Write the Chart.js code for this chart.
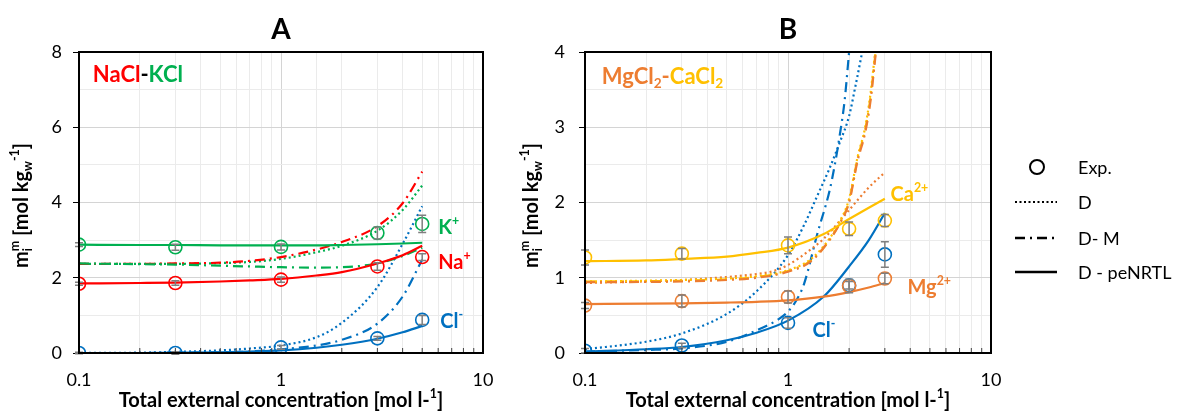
<!DOCTYPE html>
<html>
<head>
<meta charset="utf-8">
<script src="https://cdn.jsdelivr.net/npm/chart.js@4.4.1/dist/chart.umd.min.js"></script>
<style>
  body { margin: 0; background: #fff; width: 1182px; height: 411px; overflow: hidden; position: relative; font-family: Lato, sans-serif; }
  canvas { position: absolute; top: 0; }
  #chartA { left: 0; }
  #chartB { left: 510px; }
  #legend { position: absolute; left: 1000px; top: 0; width: 182px; height: 411px; }
  .leg { position: absolute; left: 78px; font-size: 18px; color: #000; transform: translateY(-50%); white-space: nowrap; }
</style>
</head>
<body>
<canvas id="chartA" width="500" height="411"></canvas>
<canvas id="chartB" width="500" height="411"></canvas>
<div id="legend">
  <svg width="70" height="300" style="position:absolute;left:0;top:0">
    <circle cx="37" cy="167" r="7" fill="none" stroke="#000" stroke-width="2"/>
    <line x1="15" y1="202" x2="57" y2="202" stroke="#000" stroke-width="2" stroke-dasharray="2,2.5"/>
    <line x1="15" y1="238" x2="57" y2="238" stroke="#000" stroke-width="2.5" stroke-dasharray="10,5,2,5"/>
    <line x1="15" y1="272" x2="57" y2="272" stroke="#000" stroke-width="2.5"/>
  </svg>
  <div class="leg" style="top:167px">Exp.</div>
  <div class="leg" style="top:202px">D</div>
  <div class="leg" style="top:238px">D- M</div>
  <div class="leg" style="top:272px">D - peNRTL</div>
</div>
<script>
// colori
const ROSSO = '#ff0000', VERDE = '#00b050', BLU = '#0070c0', ARANCIO = '#ed7d31', GIALLO = '#ffc000';
const FONT = 'Lato, sans-serif';

// ---------- Pannello A: NaCl-KCl ----------
const xExpA = [0.1, 0.3, 1, 3, 5];
const kExp = [2.88, 2.81, 2.82, 3.19, 3.43];
const kErr = [0.05, 0.08, 0.08, 0.16, 0.23];
const naExp = [1.84, 1.86, 1.95, 2.30, 2.55];
const naErr = [0.04, 0.06, 0.07, 0.1, 0.09];
const clExpA = [0.0, 0.0, 0.15, 0.39, 0.88];
const clErrA = [0.02, 0.03, 0.05, 0.05, 0.12];

const xCurvaA = [0.1, 0.2, 0.3, 0.5, 0.7, 1, 1.5, 2, 3, 4, 5];
const kPeNRTL = [2.88, 2.87, 2.87, 2.86, 2.86, 2.86, 2.86, 2.87, 2.89, 2.91, 2.93];
const naPeNRTL = [1.85, 1.86, 1.87, 1.9, 1.93, 1.97, 2.06, 2.15, 2.38, 2.6, 2.85];
const clPeNRTLA = [0, 0, 0.01, 0.02, 0.04, 0.07, 0.14, 0.22, 0.38, 0.55, 0.72];
const clDA = [0, 0.01, 0.03, 0.07, 0.12, 0.2, 0.42, 0.8, 1.75, 2.9, 3.9];
const clDMA = [0, 0, 0.01, 0.02, 0.04, 0.1, 0.2, 0.35, 0.78, 1.5, 2.48];
const naDM = [2.37, 2.37, 2.38, 2.4, 2.45, 2.55, 2.75, 2.95, 3.37, 3.98, 4.82];
const kD = [2.37, 2.37, 2.37, 2.39, 2.42, 2.5, 2.68, 2.85, 3.25, 3.8, 4.45];
const kDM = [2.38, 2.36, 2.35, 2.32, 2.3, 2.28, 2.27, 2.28, 2.38, 2.58, 2.8];

// ---------- Pannello B: MgCl2-CaCl2 ----------
const xExpB = [0.1, 0.3, 1, 2, 3];
const caExp = [1.27, 1.32, 1.43, 1.65, 1.76];
const caErr = [0.1, 0.07, 0.11, 0.09, 0.08];
const mgExp = [0.63, 0.69, 0.745, 0.89, 0.99];
const mgErr = [0.04, 0.08, 0.08, 0.09, 0.07];
const clExpB = [0.03, 0.1, 0.40, 0.90, 1.31];
const clErrB = [0.03, 0.03, 0.07, 0.05, 0.17];

const xCurvaB = [0.1, 0.2, 0.3, 0.5, 0.7, 1, 1.5, 2, 2.5, 3];
const caPeNRTL = [1.22, 1.23, 1.25, 1.28, 1.33, 1.4, 1.58, 1.78, 1.93, 2.05];
const mgPeNRTL = [0.65, 0.655, 0.66, 0.67, 0.68, 0.7, 0.75, 0.81, 0.87, 0.93];
const clPeNRTLB = [0.02, 0.05, 0.08, 0.17, 0.27, 0.43, 0.75, 1.15, 1.5, 1.86];
const xMgD = [0.1, 0.3, 0.5, 0.7, 0.85, 1, 1.3, 1.5, 2, 2.5, 3];
const mgD = [0.93, 0.97, 1.01, 1.05, 1.09, 1.17, 1.38, 1.52, 1.9, 2.2, 2.4];
const xClDB = [0.1, 0.2, 0.3, 0.5, 0.7, 1, 1.2, 1.4, 1.6, 1.8, 2, 2.15, 2.32];
const clDB = [0.05, 0.15, 0.26, 0.52, 0.82, 1.3, 1.7, 2.1, 2.45, 2.8, 3.15, 3.55, 4.0];
const xClDMB = [0.1, 0.2, 0.3, 0.5, 0.7, 0.9, 1, 1.1, 1.2, 1.4, 1.6, 1.7, 1.8, 1.9, 2.0];
const clDMB = [0.02, 0.04, 0.06, 0.15, 0.3, 0.45, 0.55, 0.7, 0.92, 1.6, 2.15, 2.5, 2.9, 3.35, 4.0];
const xSteepB = [0.1, 0.3, 0.5, 0.7, 1, 1.3, 1.6, 1.8, 2, 2.2, 2.4, 2.55, 2.7];
const mgDM = [0.94, 0.95, 0.97, 1.0, 1.08, 1.22, 1.5, 1.72, 2.0, 2.55, 2.93, 3.35, 3.96];
const caDM = [0.95, 0.96, 0.98, 1.01, 1.09, 1.23, 1.5, 1.73, 2.02, 2.58, 2.97, 3.4, 4.0];
const caD = [0.95, 0.97, 0.99, 1.02, 1.1, 1.25, 1.52, 1.75, 2.05, 2.6, 3.0, 3.45, 4.05];

function punti(xs, ys) {
    return xs.map((x, i) => ({ x: x, y: ys[i] }));
}

function esperimento(xs, ys, errs, colore) {
    return {
        data: punti(xs, ys), errori: errs, showLine: false,
        borderColor: colore, backgroundColor: 'rgba(0,0,0,0)',
        pointRadius: 6.5, pointBorderWidth: 1.6, pointHoverRadius: 6.5
    };
}

function curva(xs, ys, colore, stile) {
    let dash = [];
    if (stile === 'D') dash = [2, 3];
    if (stile === 'DM') dash = [10, 5, 2, 5];
    return {
        data: punti(xs, ys), showLine: true, borderColor: colore, borderWidth: 2.2,
        borderDash: dash, pointRadius: 0, fill: false, cubicInterpolationMode: 'monotone'
    };
}

// testo con pedici / apici
function larghezzaRich(ctx, parti, size, peso) {
    let w = 0, prev = 0;
    parti.forEach(p => {
        const s = p.pos ? size * 0.62 : size;
        ctx.font = `${peso} ${s}px ${FONT}`;
        const l = ctx.measureText(p.t).width;
        if (p.stack) { w += Math.max(0, l - prev); } else { w += l; }
        prev = l;
    });
    return w;
}

function disegnaRich(ctx, parti, x, y, size, peso, allinea) {
    let cx = allinea === 'center' ? x - larghezzaRich(ctx, parti, size, peso) / 2 : x;
    let prev = 0;
    ctx.textBaseline = 'middle';
    ctx.textAlign = 'left';
    parti.forEach(p => {
        const s = p.pos ? size * 0.62 : size;
        ctx.font = `${peso} ${s}px ${FONT}`;
        const l = ctx.measureText(p.t).width;
        let dy = 0;
        if (p.pos === 'sub') dy = size * 0.3;
        if (p.pos === 'sup') dy = -size * 0.33;
        if (p.stack) cx -= prev;
        ctx.fillStyle = p.c || '#000';
        ctx.fillText(p.t, cx, y + dy);
        cx += p.stack ? Math.max(l, prev) : l;
        prev = l;
    });
}

const titoloY = [{ t: 'm' }, { t: 'i', pos: 'sub' }, { t: 'm', pos: 'sup', stack: true }, { t: ' [mol kg' }, { t: 'w', pos: 'sub' }, { t: '-1', pos: 'sup' }, { t: ']' }];
const titoloX = [{ t: 'Total external concentration [mol l-' }, { t: '1', pos: 'sup' }, { t: ']' }];

const pluginDecorazioni = {
    id: 'decorazioni',
    afterDatasetsDraw(chart, args, opts) {
        const ctx = chart.ctx;
        const a = chart.chartArea;
        const sx = chart.scales.x, sy = chart.scales.y;
        ctx.save();
        // barre d'errore
        ctx.strokeStyle = '#7f7f7f';
        ctx.lineWidth = 1.5;
        chart.data.datasets.forEach(ds => {
            if (!ds.errori) return;
            ds.data.forEach((p, i) => {
                const e = ds.errori[i];
                const px = sx.getPixelForValue(p.x);
                const y1 = sy.getPixelForValue(p.y - e), y2 = sy.getPixelForValue(p.y + e);
                ctx.beginPath();
                ctx.moveTo(px, y1); ctx.lineTo(px, y2);
                ctx.moveTo(px - 4, y1); ctx.lineTo(px + 4, y1);
                ctx.moveTo(px - 4, y2); ctx.lineTo(px + 4, y2);
                ctx.stroke();
            });
        });
        // tacche minori interne sull'asse x
        ctx.strokeStyle = '#404040';
        ctx.lineWidth = 1;
        [0.2, 0.3, 0.4, 0.5, 0.6, 0.7, 0.8, 0.9, 2, 3, 4, 5, 6, 7, 8, 9].forEach(v => {
            const px = sx.getPixelForValue(v);
            ctx.beginPath();
            ctx.moveTo(px, a.bottom); ctx.lineTo(px, a.bottom - 5);
            ctx.stroke();
        });
        // cornice
        ctx.strokeStyle = '#000';
        ctx.lineWidth = 2;
        ctx.strokeRect(a.left, a.top, a.right - a.left, a.bottom - a.top);
        // lettera del pannello
        ctx.fillStyle = '#000';
        ctx.font = `bold 28px ${FONT}`;
        ctx.textAlign = 'center';
        ctx.textBaseline = 'middle';
        ctx.fillText(opts.lettera, (a.left + a.right) / 2, 30);
        // etichette
        opts.etichette.forEach(et => {
            disegnaRich(ctx, et.parti, sx.getPixelForValue(et.x), sy.getPixelForValue(et.y), et.size, 'bold', 'left');
        });
        // titoli assi
        disegnaRich(ctx, titoloX, (a.left + a.right) / 2, 401, 20, 'bold', 'center');
        ctx.translate(opts.titoloYx, (a.top + a.bottom) / 2 + 3);
        ctx.rotate(-Math.PI / 2);
        disegnaRich(ctx, titoloY, 0, 0, 20, 'bold', 'center');
        ctx.restore();
    }
};

function opzioni(yMax, yPasso, yEtichette, larghezzaY, padDestro, padTick, decorazioni) {
    return {
        responsive: false,
        animation: false,
        layout: { padding: { top: 52, right: padDestro, left: 0, bottom: 0 } },
        plugins: { legend: { display: false }, tooltip: { enabled: false }, decorazioni: decorazioni },
        scales: {
            x: {
                type: 'logarithmic', min: 0.1, max: 10,
                afterFit: s => { s.height = 58; },
                border: { display: false },
                grid: {
                    drawTicks: true, tickLength: 15, tickColor: 'rgba(0,0,0,0)',
                    color: c => (c.tick && Math.abs(c.tick.value - 1) < 1e-9) ? '#d4d4d4' : '#ebebeb'
                },
                ticks: {
                    autoSkip: false, maxRotation: 0, padding: 1, color: '#000',
                    font: { family: FONT, size: 18 },
                    callback: v => ([0.1, 1, 10].some(m => Math.abs(v - m) < 1e-9) ? String(v) : '')
                }
            },
            y: {
                min: 0, max: yMax,
                afterFit: s => { s.width = larghezzaY; },
                border: { display: false },
                grid: {
                    tickLength: 6,
                    color: c => (yEtichette.includes(c.tick.value) ? '#d4d4d4' : '#ebebeb'),
                    tickColor: c => (yEtichette.includes(c.tick.value) ? '#000' : 'rgba(0,0,0,0)')
                },
                ticks: {
                    stepSize: yPasso, padding: padTick, color: '#000',
                    font: { family: FONT, size: 18 },
                    callback: v => (yEtichette.includes(v) ? String(v) : '')
                }
            }
        }
    };
}

new Chart(document.getElementById('chartA'), {
    type: 'scatter',
    data: {
        datasets: [
            esperimento(xExpA, kExp, kErr, VERDE),
            esperimento(xExpA, naExp, naErr, ROSSO),
            esperimento(xExpA, clExpA, clErrA, BLU),
            curva(xCurvaA, kPeNRTL, VERDE, 'peNRTL'),
            curva(xCurvaA, naPeNRTL, ROSSO, 'peNRTL'),
            curva(xCurvaA, clPeNRTLA, BLU, 'peNRTL'),
            curva(xCurvaA, kDM, VERDE, 'DM'),
            curva(xCurvaA, naDM, ROSSO, 'DM'),
            curva(xCurvaA, kD, VERDE, 'D'),
            curva(xCurvaA, clDMA, BLU, 'DM'),
            curva(xCurvaA, clDA, BLU, 'D')
        ]
    },
    options: opzioni(8, 1, [0, 2, 4, 6, 8], 79, 17, 11, {
        lettera: 'A', titoloYx: 22,
        etichette: [
            { x: 0.117, y: 7.39, size: 22, parti: [{ t: 'NaCl', c: ROSSO }, { t: '-' }, { t: 'KCl', c: VERDE }] },
            { x: 6.0, y: 3.33, size: 20, parti: [{ t: 'K', c: VERDE }, { t: '+', pos: 'sup', c: VERDE }] },
            { x: 6.0, y: 2.4, size: 20, parti: [{ t: 'Na', c: ROSSO }, { t: '+', pos: 'sup', c: ROSSO }] },
            { x: 6.15, y: 0.83, size: 20, parti: [{ t: 'Cl', c: BLU }, { t: '-', pos: 'sup', c: BLU }] }
        ]
    }),
    plugins: [pluginDecorazioni]
});

new Chart(document.getElementById('chartB'), {
    type: 'scatter',
    data: {
        datasets: [
            esperimento(xExpB, caExp, caErr, GIALLO),
            esperimento(xExpB, mgExp, mgErr, ARANCIO),
            esperimento(xExpB, clExpB, clErrB, BLU),
            curva(xCurvaB, caPeNRTL, GIALLO, 'peNRTL'),
            curva(xCurvaB, mgPeNRTL, ARANCIO, 'peNRTL'),
            curva(xCurvaB, clPeNRTLB, BLU, 'peNRTL'),
            curva(xSteepB, mgDM, ARANCIO, 'DM'),
            curva(xSteepB, caD, GIALLO, 'D'),
            curva(xSteepB, caDM, GIALLO, 'DM'),
            curva(xMgD, mgD, ARANCIO, 'D'),
            curva(xClDMB, clDMB, BLU, 'DM'),
            curva(xClDB, clDB, BLU, 'D')
        ]
    },
    options: opzioni(4, 0.5, [0, 1, 2, 3, 4], 75, 19, 14, {
        lettera: 'B', titoloYx: 22,
        etichette: [
            { x: 0.121, y: 3.67, size: 22, parti: [{ t: 'MgCl', c: ARANCIO }, { t: '2', pos: 'sub', c: ARANCIO }, { t: '-', c: ARANCIO }, { t: 'CaCl', c: GIALLO }, { t: '2', pos: 'sub', c: GIALLO }] },
            { x: 3.2, y: 2.1, size: 20, parti: [{ t: 'Ca', c: GIALLO }, { t: '2+', pos: 'sup', c: GIALLO }] },
            { x: 3.88, y: 0.87, size: 20, parti: [{ t: 'Mg', c: ARANCIO }, { t: '2+', pos: 'sup', c: ARANCIO }] },
            { x: 1.32, y: 0.3, size: 20, parti: [{ t: 'Cl', c: BLU }, { t: '-', pos: 'sup', c: BLU }] }
        ]
    }),
    plugins: [pluginDecorazioni]
});
</script>
</body>
</html>
